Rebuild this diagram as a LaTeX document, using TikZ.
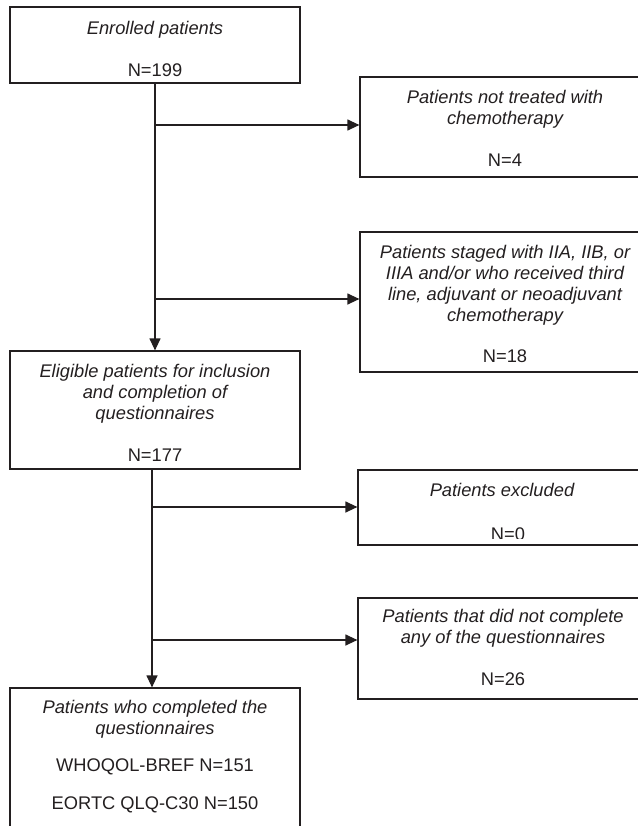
\documentclass[tikz,border=0pt]{standalone}
\usepackage{fontspec}
\setmainfont{Liberation Sans}
\usetikzlibrary{arrows.meta,calc}
\definecolor{ink}{HTML}{231F20}
\begin{document}
\begin{tikzpicture}[x=1bp,y=-1bp,
  box/.style={draw=ink,line width=1.2bp,rectangle,inner sep=0pt},
  txt/.style={text=ink,align=center,inner sep=0pt,anchor=base,font=\fontsize{18.3bp}{20.8bp}\selectfont},
  arr/.style={draw=ink,line width=1.2bp,-{Triangle[length=12bp,width=11bp]}},
  ln/.style={draw=ink,line width=1.2bp}]
\useasboundingbox (0,0) rectangle (638,826);
\clip (0,0) rectangle (638,826);
% boxes
\node[box,minimum width=290bp,minimum height=76bp] (b1) at (155,45) {};
\node[box,minimum width=290bp,minimum height=100bp] (r1) at (505,127) {};
\node[box,minimum width=290bp,minimum height=140bp] (r2) at (505,302) {};
\node[box,minimum width=290bp,minimum height=118bp] (b2) at (155,410) {};
\node[box,minimum width=290bp,minimum height=75bp] (r3) at (503,507.5) {};
\node[box,minimum width=290bp,minimum height=101bp] (r4) at (503,648.5) {};
\node[box,minimum width=290bp,minimum height=160bp] (b3) at (155,768) {};
% texts (anchored at the baseline of the last line)
\node[txt] (t1) at (155,76) {\itshape Enrolled patients\\[21bp] N=199};
\node[txt] (t2) at (505,166) {\itshape Patients not treated with\\\itshape chemotherapy\\[21bp] N=4};
\node[txt] (t3) at (505,362) {\itshape Patients staged with IIA, IIB, or\\\itshape IIIA and/or who received third\\\itshape line, adjuvant or neoadjuvant\\\itshape chemotherapy\\[20bp] N=18};
\node[txt] (t4) at (155,461) {\itshape Eligible patients for inclusion\\\itshape and completion of\\\itshape questionnaires\\[21bp] N=177};
\node[txt] (t5) at (502,496) {\itshape Patients excluded};
\begin{scope}
\clip (357,470) rectangle (650,538);
\node[txt] (t5b) at (508,540.5) {N=0};
\end{scope}
\node[txt] (t6) at (503,685) {\itshape Patients that did not complete\\\itshape any of the questionnaires\\[21bp] N=26};
\node[txt] (t7) at (155,809) {\itshape Patients who completed the\\\itshape questionnaires\\[16.5bp] WHOQOL-BREF N=151\\[16.5bp] EORTC QLQ-C30 N=150};
% connectors
\coordinate (j1) at (155,125);
\coordinate (j2) at (155,299);
\coordinate (j3) at (152,507);
\coordinate (j4) at (152,640);
\draw[arr] (b1.south) -- (b2.north);
\draw[arr] (j1) -- (j1 -| r1.west);
\draw[arr] (j2) -- (j2 -| r2.west);
\draw[arr] ([xshift=-3bp]b2.south) -- ([xshift=-3bp]b3.north);
\draw[arr] (j3) -- (j3 -| r3.west);
\draw[arr] (j4) -- (j4 -| r4.west);
\end{tikzpicture}
\end{document}
